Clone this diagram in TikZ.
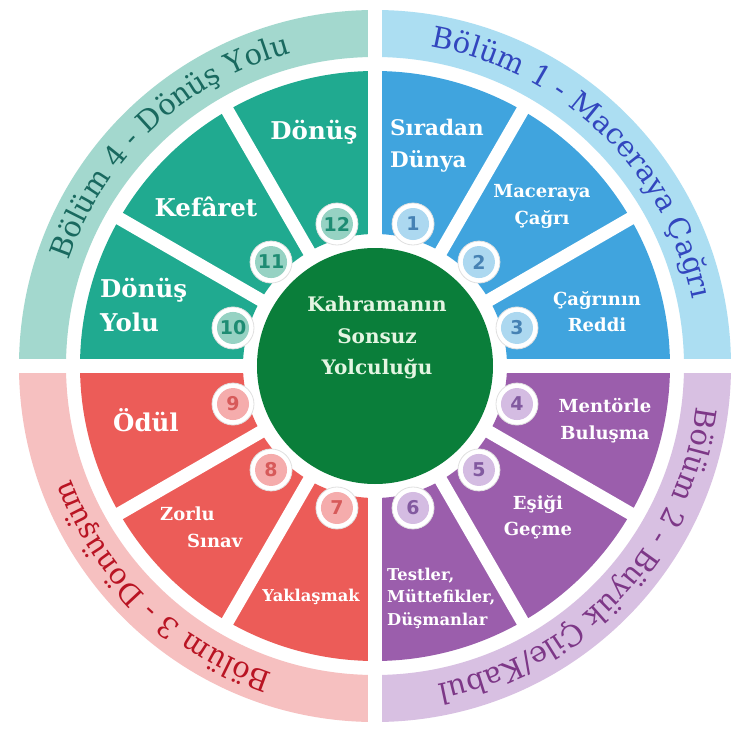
\documentclass[tikz,border=0pt]{standalone}
\usepackage{fontspec}
\setmainfont{DejaVu Serif}
\newfontfamily\ringfamily{DejaVu Serif}
\newfontfamily\labfamily{DejaVu Serif}
\newfontfamily\numfamily{DejaVu Sans}
\usetikzlibrary{decorations.text}
\newcommand\rgfnt{\ringfamily\fontsize{29}{32}\selectfont}
\newcommand\bigfnt{\labfamily\bfseries\fontsize{24.5}{34}\selectfont}
\newcommand\sirfnt{\labfamily\bfseries\fontsize{21.5}{32}\selectfont}
\newcommand\midfnt{\labfamily\bfseries\fontsize{18}{26.5}\selectfont}
\newcommand\smlfnt{\labfamily\bfseries\fontsize{16.3}{22.5}\selectfont}
\newcommand\hubfnt{\labfamily\bfseries\fontsize{20}{31.5}\selectfont}
\newcommand\numfnt{\numfamily\bfseries\fontsize{19}{20}\selectfont}
\definecolor{tealW}{RGB}{32,170,144}
\definecolor{tealR}{RGB}{163,216,206}
\definecolor{tealT}{RGB}{25,105,95}
\definecolor{tealB}{RGB}{150,210,195}
\definecolor{tealN}{RGB}{30,140,115}
\definecolor{blueW}{RGB}{64,164,222}
\definecolor{blueR}{RGB}{172,222,242}
\definecolor{blueT}{RGB}{50,70,190}
\definecolor{blueB}{RGB}{172,216,240}
\definecolor{blueN}{RGB}{70,130,180}
\definecolor{purW}{RGB}{155,94,172}
\definecolor{purR}{RGB}{216,192,226}
\definecolor{purT}{RGB}{125,55,135}
\definecolor{purB}{RGB}{212,188,226}
\definecolor{purN}{RGB}{130,90,160}
\definecolor{redW}{RGB}{236,92,88}
\definecolor{redR}{RGB}{246,192,192}
\definecolor{redT}{RGB}{185,20,35}
\definecolor{redB}{RGB}{245,172,172}
\definecolor{redN}{RGB}{215,90,90}
\definecolor{hubG}{RGB}{10,126,58}
\definecolor{hubT}{RGB}{228,245,226}
\tikzset{
  lab/.style={text=white, inner sep=0pt},
  biglab/.style={lab, font=\bigfnt},
  midlab/.style={lab, font=\midfnt},
  smllab/.style={lab, font=\smlfnt},
  gap/.style={white, line width=13pt},
  axisgap/.style={white, line width=14pt},
  badgeout/.style={circle, fill=white, draw=black!12, line width=0.8pt, minimum size=42pt, inner sep=0pt},
  badgein/.style={circle, minimum size=32pt, inner sep=0pt, font=\numfnt},
  ringtext/.style={decorate, decoration={text along path, text align=center, text color=#1}}
}
\begin{document}
\begin{tikzpicture}[x=1pt,y=1pt]
\useasboundingbox (-375,-384) rectangle (375,366);
\fill[white] (-375,-384) rectangle (375,366);
% outer ring
\foreach \a/\c [evaluate=\a as \b using \a+90] in {0/blueR,-90/purR,-180/redR,90/tealR}
  \fill[\c] (\a:309pt) arc[start angle=\a,end angle=\b,radius=309pt] -- (\b:356pt) arc[start angle=\b,end angle=\a,radius=356pt] -- cycle;
% wedges
\foreach \a/\c [evaluate=\a as \b using \a+30] in {60/blueW,30/blueW,0/blueW,-30/purW,-60/purW,-90/purW,-120/redW,-150/redW,-180/redW,150/tealW,120/tealW,90/tealW}
  \fill[\c] (\a:132pt) arc[start angle=\a,end angle=\b,radius=132pt] -- (\b:295pt) arc[start angle=\b,end angle=\a,radius=295pt] -- cycle;
% separators
\coordinate (o) at (0,0);
\foreach \a in {30,60,120,150,210,240,300,330}
  \draw[gap] (o) -- (\a:300pt);
\coordinate (axl) at (-370,0);
\coordinate (axr) at (370,0);
\coordinate (axt) at (0,370);
\coordinate (axb) at (0,-380);
\draw[axisgap] (axl) -- (axr);
\draw[axisgap] (axb) -- (axt);
% hub
\node[circle, fill=hubG, minimum size=236pt, inner sep=0pt] (hub) at (0,0) {};
\node[font=\hubfnt, text=hubT, align=center, inner sep=0pt] (hubtext) at (2,28) {Kahramanın\\Sonsuz\\Yolculuğu};
% badges
\foreach \i/\a/\c/\n in {1/75/blueB/blueN,2/45/blueB/blueN,3/15/blueB/blueN,4/-15/purB/purN,5/-45/purB/purN,6/-75/purB/purN,7/-105/redB/redN,8/-135/redB/redN,9/-165/redB/redN,10/165/tealB/tealN,11/135/tealB/tealN,12/105/tealB/tealN}{
  \node[badgeout] (bo\i) at (\a:147pt) {};
  \node[badgein, fill=\c, text=\n] (bi\i) at (bo\i) {\i};
}
% ring texts
\path[ringtext=blueT, decoration={text={|\rgfnt|Bölüm 1 - Maceraya Çağrı}}] (91:324pt) arc[start angle=91,end angle=1,radius=324pt];
\path[ringtext=purT, decoration={text={|\rgfnt|Bölüm 2 - Büyük Çile/Kabul}}] (2:324pt) arc[start angle=2,end angle=-88,radius=324pt];
\path[ringtext=redT, decoration={text={|\rgfnt|Bölüm 3 - Dönüşüm}}] (-89:324pt) arc[start angle=-89,end angle=-179,radius=324pt];
\path[ringtext=tealT, decoration={text={|\rgfnt|Bölüm 4 - Dönüş Yolu}}] (178:324pt) arc[start angle=178,end angle=88,radius=324pt];
% wedge labels
\node[lab, font=\sirfnt, align=left, anchor=west] (l1) at (15,220) {Sıradan\\Dünya};
\node[midlab, align=center] (l2) at (167,159.5) {Maceraya\\Çağrı};
\node[midlab, align=center] (l3) at (222,54.5) {Çağrının\\Reddi};
\node[midlab, align=center] (l4) at (230,-54.5) {Mentörle\\Buluşma};
\node[midlab, align=center] (l5) at (163,-151.5) {Eşiği\\Geçme};
\node[smllab, align=left, anchor=west] (l6) at (12,-232) {Testler,\\Müttefikler,\\Düşmanlar};
\node[smllab] (l7) at (-64,-231) {Yaklaşmak};
\node[midlab, align=left, anchor=west] (l8) at (-215,-161.5) {Zorlu\\\hspace*{27pt}Sınav};
\node[biglab] (l9) at (-229,-54) {Ödül};
\node[biglab, align=left, anchor=west] (l10) at (-275,61) {Dönüş\\Yolu};
\node[biglab] (l11) at (-169,159) {Kefâret};
\node[biglab] (l12) at (-61,234) {Dönüş};
\end{tikzpicture}
\end{document}
